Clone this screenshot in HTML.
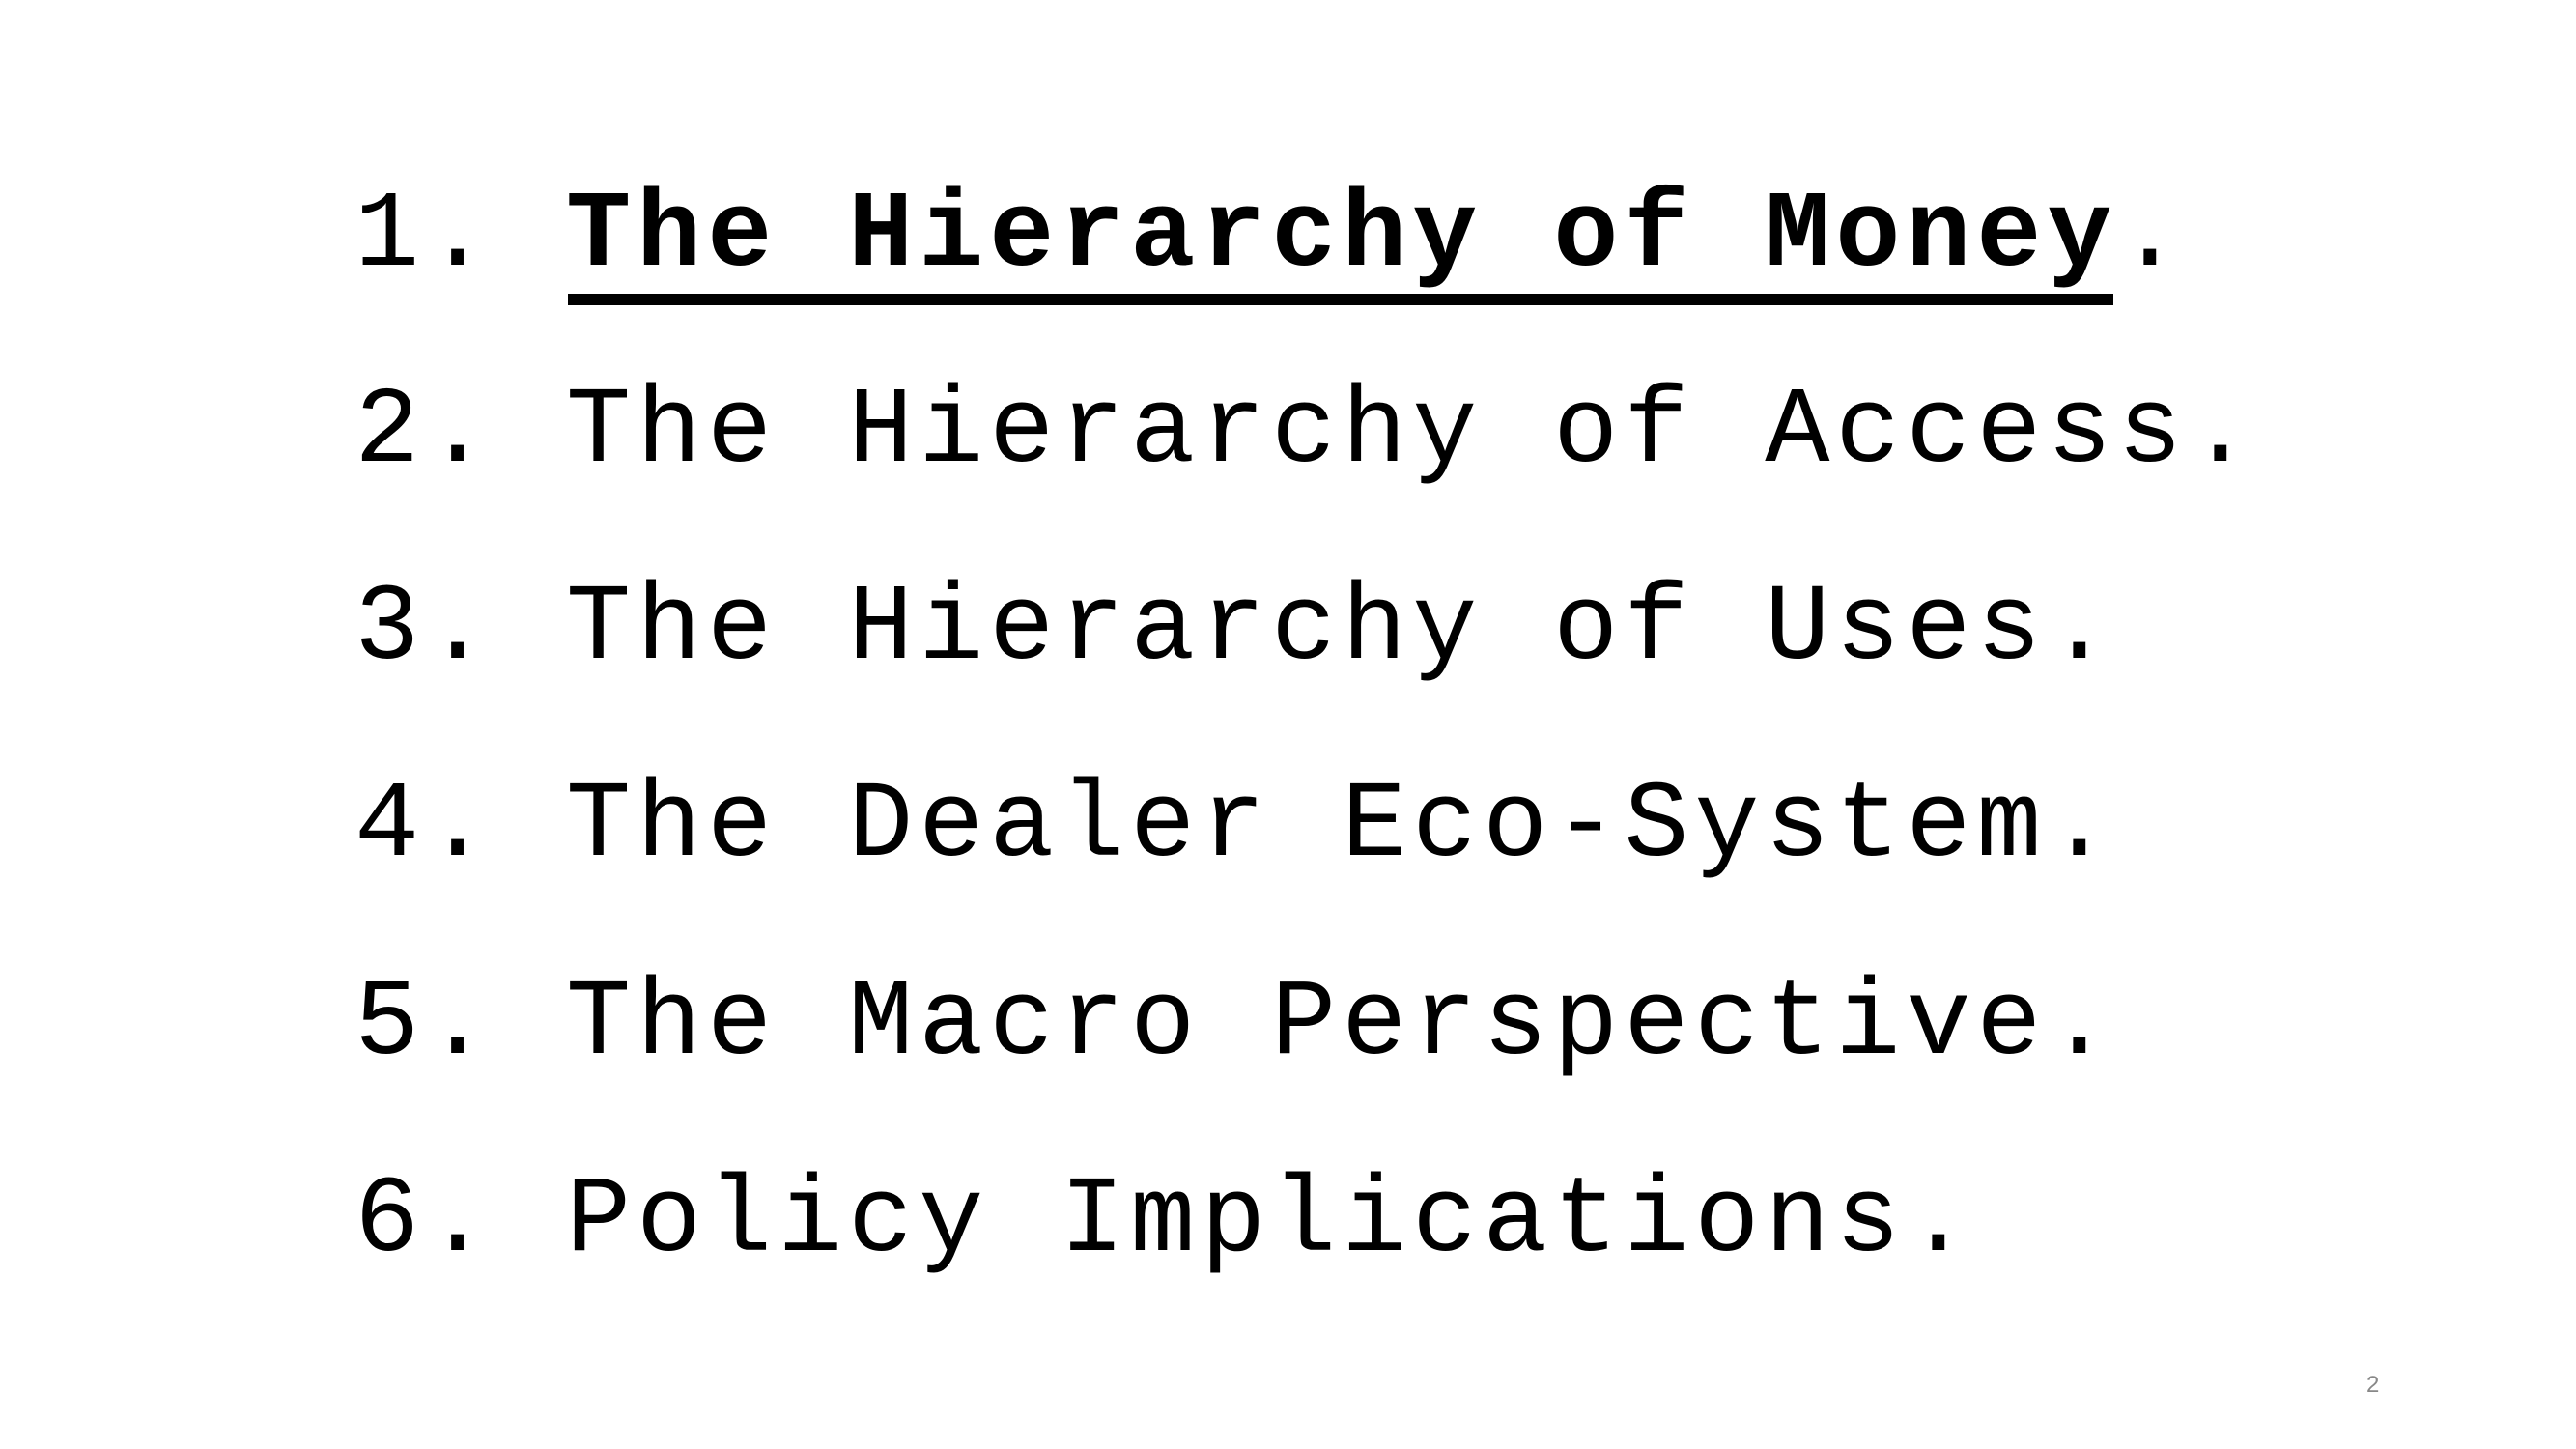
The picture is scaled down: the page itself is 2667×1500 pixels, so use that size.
<!DOCTYPE html>
<html><head><meta charset="utf-8"><style>
html,body{margin:0;padding:0;background:#fff;}
body{width:2667px;height:1500px;position:relative;overflow:hidden;}
.item{position:absolute;left:367px;font-family:"Liberation Mono","Courier New",monospace;font-size:112px;letter-spacing:5.8px;line-height:1;white-space:pre;color:#000;}
b{font-weight:bold;}
</style></head><body>
<div class="item" style="top:189px">1. <b>The Hierarchy of Money</b>.</div>
<div style="position:absolute;left:588px;top:304px;width:1600px;height:12px;background:#000"></div>
<div class="item" style="top:392px">2. The Hierarchy of Access.</div>
<div class="item" style="top:596px">3. The Hierarchy of Uses.</div>
<div class="item" style="top:800px">4. The Dealer Eco-System.</div>
<div class="item" style="top:1005px">5. The Macro Perspective.</div>
<div class="item" style="top:1209px">6. Policy Implications.</div>
<div style="position:absolute;left:2450px;top:1420px;font-family:'Liberation Sans',sans-serif;font-size:24px;color:#888">2</div>
</body></html>
